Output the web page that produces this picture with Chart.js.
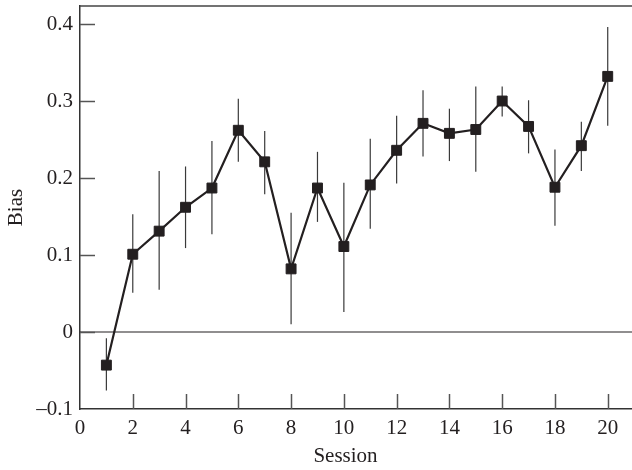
<!DOCTYPE html>
<html>
<head>
<meta charset="utf-8">
<script src="https://cdn.jsdelivr.net/npm/chart.js@4"></script>
<style>
  html, body { margin: 0; padding: 0; background: #fff; }
  #wrap { width: 632px; height: 470px; position: relative; }
</style>
</head>
<body>
<div id="wrap"><canvas id="biasChart"></canvas></div>
<script>
// Data
const sessions = [1, 2, 3, 4, 5, 6, 7, 8, 9, 10, 11, 12, 13, 14, 15, 16, 17, 18, 19, 20];
const bias = [-0.043, 0.101, 0.131, 0.162, 0.187, 0.262, 0.221, 0.082, 0.187, 0.111,
              0.191, 0.236, 0.271, 0.258, 0.263, 0.300, 0.267, 0.188, 0.242, 0.332];
const errHigh = [-0.008, 0.153, 0.209, 0.215, 0.248, 0.303, 0.261, 0.155, 0.234, 0.194,
                 0.251, 0.281, 0.314, 0.290, 0.319, 0.319, 0.301, 0.237, 0.273, 0.396];
const errLow = [-0.076, 0.051, 0.055, 0.109, 0.127, 0.221, 0.179, 0.010, 0.143, 0.026,
                0.134, 0.193, 0.228, 0.222, 0.208, 0.280, 0.232, 0.138, 0.209, 0.268];
const xTicks = [0, 2, 4, 6, 8, 10, 12, 14, 16, 18, 20];
const yTicks = [-0.1, 0, 0.1, 0.2, 0.3, 0.4];
const yTickLabels = ['\u20130.1', '0', '0.1', '0.2', '0.3', '0.4'];

const ink = '#231f20';
const serif = { family: "'Liberation Serif', 'DejaVu Serif', serif", size: 21 };

// error bars + zero line under the series
const errorBars = {
  id: 'errorBars',
  beforeDatasetsDraw(chart) {
    const { ctx, chartArea, scales: { x, y } } = chart;
    ctx.save();
    // zero reference line
    ctx.strokeStyle = ink;
    ctx.lineWidth = 1.2;
    ctx.beginPath();
    ctx.moveTo(chartArea.left, y.getPixelForValue(0));
    ctx.lineTo(chartArea.right, y.getPixelForValue(0));
    ctx.stroke();

    ctx.strokeStyle = '#3a3a3a';
    ctx.lineWidth = 1.2;
    sessions.forEach((s, i) => {
      const px = x.getPixelForValue(s);
      ctx.beginPath();
      ctx.moveTo(px, y.getPixelForValue(errLow[i]));
      ctx.lineTo(px, y.getPixelForValue(errHigh[i]));
      ctx.stroke();
    });
    ctx.restore();
  }
};

// inward ticks and the top frame line
const frame = {
  id: 'frame',
  afterDraw(chart) {
    const { ctx, chartArea, scales: { x, y } } = chart;
    const len = 15;
    ctx.save();
    ctx.strokeStyle = '#555';
    ctx.lineWidth = 1.5;
    xTicks.slice(1).forEach(v => {
      const px = Math.round(x.getPixelForValue(v)) + 0.5;
      ctx.beginPath();
      ctx.moveTo(px, chartArea.bottom);
      ctx.lineTo(px, chartArea.bottom - len);
      ctx.stroke();
    });
    yTicks.slice(1).forEach(v => {
      const py = Math.round(y.getPixelForValue(v)) + 0.5;
      ctx.beginPath();
      ctx.moveTo(chartArea.left, py);
      ctx.lineTo(chartArea.left + len, py);
      ctx.stroke();
    });
    ctx.strokeStyle = '#444';
    ctx.beginPath();
    ctx.moveTo(chartArea.left, chartArea.top);
    ctx.lineTo(chartArea.right, chartArea.top);
    ctx.stroke();
    ctx.restore();
  }
};

new Chart(document.getElementById('biasChart').getContext('2d'), {
  type: 'line',
  data: {
    labels: sessions,
    datasets: [{
      label: 'Bias',
      data: sessions.map((s, i) => ({ x: s, y: bias[i] })),
      borderColor: ink,
      borderWidth: 2.2,
      pointStyle: 'rect',
      pointRadius: 7,
      pointBackgroundColor: ink,
      pointBorderColor: ink,
      pointBorderWidth: 1,
      tension: 0,
      clip: false
    }]
  },
  options: {
    responsive: true,
    maintainAspectRatio: false,
    animation: false,
    layout: { autoPadding: false, padding: { top: 6, right: 0, left: 0, bottom: 0 } },
    plugins: {
      legend: { display: false },
      tooltip: { enabled: false }
    },
    scales: {
      x: {
        type: 'linear',
        min: 0,
        max: 20.92,
        afterFit: s => { s.height = 61; s.paddingLeft = 0; s.paddingRight = 0; },
        afterBuildTicks: s => { s.ticks = xTicks.map(v => ({ value: v })); },
        grid: { display: false, drawTicks: false },
        border: { display: true, color: '#333', width: 1.5 },
        ticks: { color: ink, font: serif, padding: 7, maxRotation: 0, autoSkip: false },
        title: { display: true, text: 'Session\u2003', color: ink, font: serif, padding: { top: 0, bottom: 1 } }
      },
      y: {
        type: 'linear',
        min: -0.1,
        max: 0.4234,
        afterFit: s => { s.width = 80; s.paddingTop = 0; s.paddingBottom = 0; },
        afterBuildTicks: s => { s.ticks = yTicks.map(v => ({ value: v })); },
        grid: { display: false, drawTicks: false },
        border: { display: true, color: '#333', width: 1.5 },
        ticks: {
          color: ink, font: serif, padding: 7,
          callback: (v) => yTickLabels[yTicks.findIndex(t => Math.abs(t - v) < 1e-6)]
        },
        title: { display: true, text: 'Bias', color: ink, font: serif, padding: { top: 4, bottom: 0 } }
      }
    }
  },
  plugins: [errorBars, frame]
});
</script>
</body>
</html>
